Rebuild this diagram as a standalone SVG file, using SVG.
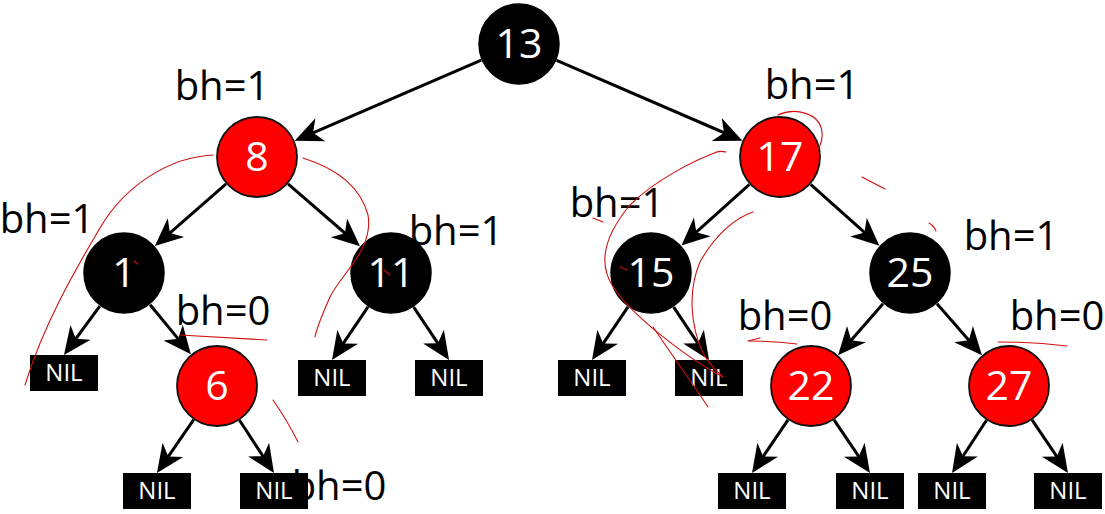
<svg xmlns="http://www.w3.org/2000/svg" width="1105" height="514" viewBox="0 0 1105 514">
<defs>
<style>
.bg{fill:#ffffff}
.edge{stroke:#000;stroke-width:3;fill:none;marker-end:url(#arr)}
.blk{fill:#000;stroke:#000;stroke-width:1.5}
.red{fill:#ff0000;stroke:#111;stroke-width:1.8}
.num{font-family:"Open Sans","Noto Sans",sans-serif;font-size:41px;fill:#fff;text-anchor:middle}
.nil{fill:#000}
.niltxt{font-family:"Open Sans","Noto Sans",sans-serif;font-size:24px;fill:#fff;text-anchor:middle}
.bh{font-family:"Open Sans","Noto Sans",sans-serif;font-size:40px;fill:#000;text-anchor:middle}
.ink{fill:none;stroke:#d01010;stroke-width:1.1;stroke-linecap:round}
</style>
<marker id="arr" viewBox="0 -14 29 28" refX="20" refY="0" markerWidth="29" markerHeight="28" markerUnits="userSpaceOnUse" orient="auto">
<path d="M0,-12.5 L28,0 L0,12.5 L8,0 Z" fill="#000"/>
</marker>
</defs>
<rect class="bg" x="0" y="0" width="1105" height="514"/>

<g id="labels">
<text class="bh" x="222" y="100">bh=1</text>
<text class="bh" x="47" y="233">bh=1</text>
<text class="bh" x="223" y="325">bh=0</text>
<text class="bh" x="339" y="500">bh=0</text>
<text class="bh" x="456" y="245">bh=1</text>
<text class="bh" x="617" y="217">bh=1</text>
<text class="bh" x="812" y="99">bh=1</text>
<text class="bh" x="1011" y="250">bh=1</text>
<text class="bh" x="785" y="330">bh=0</text>
<text class="bh" x="1057" y="330">bh=0</text>
</g>

<g id="connectors">
<line class="edge" x1="481.3" y1="60.2" x2="302.0" y2="137.6"/>
<line class="edge" x1="556.6" y1="60.3" x2="735.1" y2="137.5"/>
<line class="edge" x1="226.1" y1="183.9" x2="160.9" y2="240.8"/>
<line class="edge" x1="288.0" y1="183.8" x2="354.0" y2="241.0"/>
<line class="edge" x1="749.5" y1="184.4" x2="687.4" y2="240.2"/>
<line class="edge" x1="810.6" y1="184.3" x2="873.4" y2="240.4"/>
<line class="edge" x1="150.1" y1="304.7" x2="185.8" y2="348.1"/>
<line class="edge" x1="883.0" y1="303.8" x2="843.3" y2="349.2"/>
<line class="edge" x1="937.0" y1="303.8" x2="976.7" y2="349.2"/>
<line class="edge" x1="99.8" y1="306.1" x2="68.7" y2="348.5"/>
<line class="edge" x1="368.0" y1="306.9" x2="336.5" y2="353.4"/>
<line class="edge" x1="413.7" y1="307.1" x2="444.6" y2="353.3"/>
<line class="edge" x1="628.0" y1="306.9" x2="596.5" y2="353.4"/>
<line class="edge" x1="673.7" y1="307.1" x2="704.6" y2="353.3"/>
<line class="edge" x1="193.7" y1="419.7" x2="161.5" y2="466.4"/>
<line class="edge" x1="239.5" y1="420.3" x2="269.6" y2="466.3"/>
<line class="edge" x1="788.0" y1="419.9" x2="756.5" y2="466.4"/>
<line class="edge" x1="834.0" y1="419.9" x2="865.5" y2="466.4"/>
<line class="edge" x1="986.5" y1="420.3" x2="956.4" y2="466.3"/>
<line class="edge" x1="1032.0" y1="419.9" x2="1063.5" y2="466.4"/>
</g>

<g id="n13"><circle class="blk" cx="519" cy="44" r="40"/><text class="num" x="519" y="58">13</text></g>
<g id="n8"><circle class="red" cx="257" cy="157" r="40"/><text class="num" x="257" y="171">8</text></g>
<g id="n17"><circle class="red" cx="780" cy="157" r="40"/><text class="num" x="780" y="171">17</text></g>
<g id="n1"><circle class="blk" cx="124" cy="273" r="40"/><text class="num" x="124" y="287">1</text></g>
<g id="n11"><circle class="blk" cx="391" cy="273" r="40"/><text class="num" x="391" y="287">11</text></g>
<g id="n15"><circle class="blk" cx="651" cy="273" r="40"/><text class="num" x="651" y="287">15</text></g>
<g id="n25"><circle class="blk" cx="910" cy="273" r="40"/><text class="num" x="910" y="287">25</text></g>
<g id="n6"><circle class="red" cx="217" cy="386" r="40"/><text class="num" x="217" y="400">6</text></g>
<g id="n22"><circle class="red" cx="811" cy="386" r="40"/><text class="num" x="811" y="400">22</text></g>
<g id="n27"><circle class="red" cx="1009" cy="386" r="40"/><text class="num" x="1009" y="400">27</text></g>

<g id="nil1"><rect class="nil" x="30" y="355" width="68" height="36"/><text class="niltxt" x="64" y="381">NIL</text></g>
<g id="nil11a"><rect class="nil" x="298" y="360" width="68" height="36"/><text class="niltxt" x="332" y="386">NIL</text></g>
<g id="nil11b"><rect class="nil" x="415" y="360" width="68" height="36"/><text class="niltxt" x="449" y="386">NIL</text></g>
<g id="nil15a"><rect class="nil" x="558" y="360" width="68" height="36"/><text class="niltxt" x="592" y="386">NIL</text></g>
<g id="nil15b"><rect class="nil" x="675" y="360" width="68" height="36"/><text class="niltxt" x="709" y="386">NIL</text></g>
<g id="nil6a"><rect class="nil" x="123" y="473" width="68" height="36"/><text class="niltxt" x="157" y="499">NIL</text></g>
<g id="nil6b"><rect class="nil" x="240" y="473" width="68" height="36"/><text class="niltxt" x="274" y="499">NIL</text></g>
<g id="nil22a"><rect class="nil" x="718" y="473" width="68" height="36"/><text class="niltxt" x="752" y="499">NIL</text></g>
<g id="nil22b"><rect class="nil" x="836" y="473" width="68" height="36"/><text class="niltxt" x="870" y="499">NIL</text></g>
<g id="nil27a"><rect class="nil" x="918" y="473" width="68" height="36"/><text class="niltxt" x="952" y="499">NIL</text></g>
<g id="nil27b"><rect class="nil" x="1034" y="473" width="68" height="36"/><text class="niltxt" x="1068" y="499">NIL</text></g>

<g id="annotations">
<path class="ink" d="M213,155 C170,157 125,185 100,228 C80,262 45,320 25,385"/>
<path class="ink" d="M303,158 C335,168 360,185 368,215 C374,250 340,275 330,297 C322,315 317,327 315,337"/>
<path class="ink" d="M273,400 Q287,420 298,442"/>
<path class="ink" d="M180,335 L267,340"/>
<path class="ink" d="M778,115 C795,107 820,113 822,132 C823,140 820,146 818,150"/>
<path class="ink" d="M726,152 C717,150 713,154 717,152 C695,160 655,180 630,205 C605,235 598,262 612,285 C630,315 690,360 723,377"/>
<path class="ink" d="M753,212 C735,218 715,235 700,262 C688,290 690,325 703,353 C710,366 718,372 723,377"/>
<path class="ink" d="M653,327 C672,355 690,380 708,407"/>
<path class="ink" d="M593,218 L603,222"/>
<path class="ink" d="M620,267 L627,270"/>
<path class="ink" d="M748,341 L760,338"/>
<path class="ink" d="M862,177 L885,189"/>
<path class="ink" d="M929,223 Q934,226 936,231"/>
<path class="ink" d="M749,341 Q775,341 797,344"/>
<path class="ink" d="M998,342 Q1035,342 1067,346"/>
<path class="ink" d="M384,270 L390,275"/>
<path class="ink" d="M134,261 L138,264"/>
</g>
</svg>
